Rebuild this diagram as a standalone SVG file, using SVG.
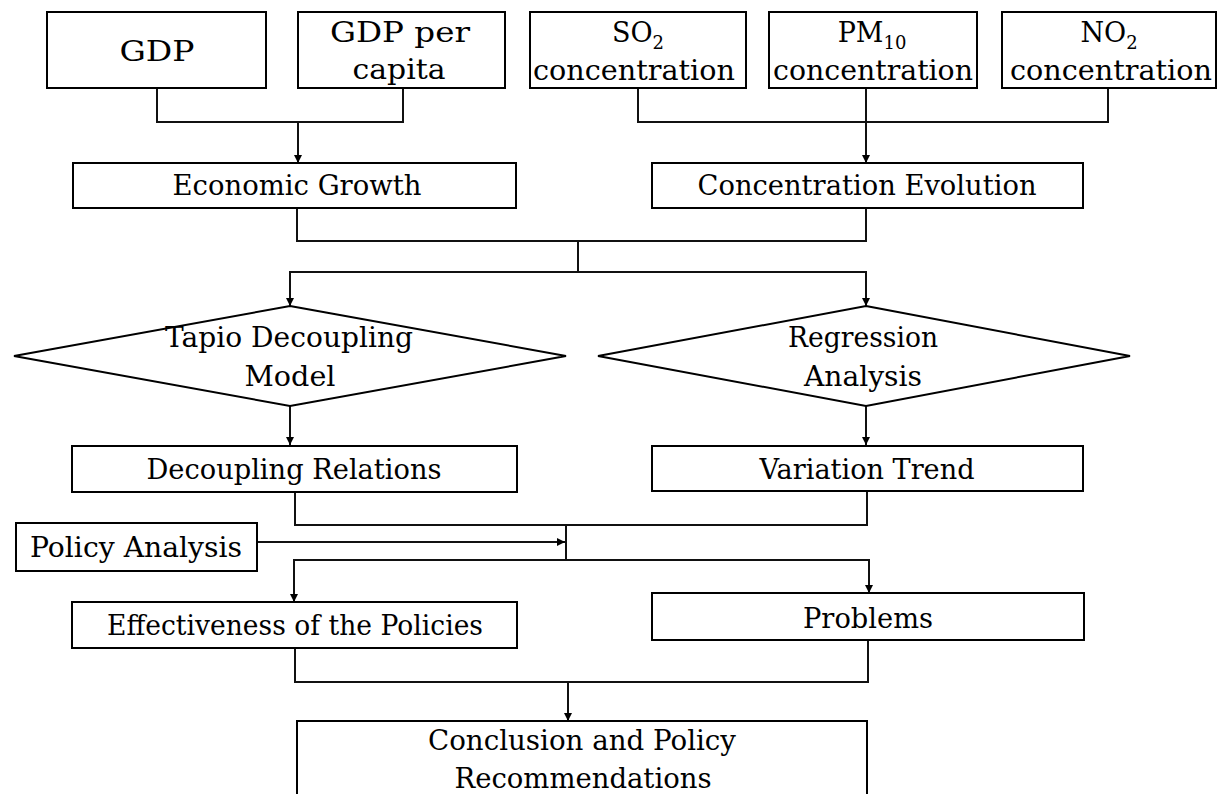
<svg xmlns="http://www.w3.org/2000/svg" width="1218" height="794" viewBox="0 0 1218 794">
<style>
.box{fill:#fff;stroke:#000;stroke-width:2}
.t{font-family:"DejaVu Serif","Liberation Serif",serif;font-size:27px;fill:#000;text-anchor:middle}
.s{font-size:18px}
.c{fill:none;stroke:#111;stroke-width:2}
</style>
<defs>
<marker id="ah" markerWidth="8" markerHeight="10" refX="8" refY="5" orient="auto" markerUnits="userSpaceOnUse">
<path d="M0,1 L8,5 L0,9 Z" fill="#000"/>
</marker>
</defs>
<rect width="1218" height="794" fill="#fff"/>
<g id="connectors">
<polyline class="c" points="157,88 157,122 403,122 403,88"/>
<line class="c" x1="298" y1="122" x2="298" y2="163" marker-end="url(#ah)"/>
<polyline class="c" points="638,88 638,122 1108,122 1108,88"/>
<line class="c" x1="866" y1="88" x2="866" y2="163" marker-end="url(#ah)"/>
<polyline class="c" points="297,208 297,241 866,241 866,208"/>
<line class="c" x1="578" y1="241" x2="578" y2="272"/>
<line class="c" x1="290" y1="272" x2="866" y2="272"/>
<line class="c" x1="290" y1="271" x2="290" y2="306" marker-end="url(#ah)"/>
<line class="c" x1="866" y1="271" x2="866" y2="306" marker-end="url(#ah)"/>
<line class="c" x1="290" y1="406" x2="290" y2="445" marker-end="url(#ah)"/>
<line class="c" x1="866" y1="406" x2="866" y2="445" marker-end="url(#ah)"/>
<polyline class="c" points="295,491 295,525 867,525 867,491"/>
<line class="c" x1="566" y1="525" x2="566" y2="560"/>
<line class="c" x1="257" y1="542" x2="565" y2="542" marker-end="url(#ah)"/>
<line class="c" x1="294" y1="560" x2="869" y2="560"/>
<line class="c" x1="294" y1="559" x2="294" y2="602" marker-end="url(#ah)"/>
<line class="c" x1="869" y1="559" x2="869" y2="593" marker-end="url(#ah)"/>
<polyline class="c" points="295,648 295,682 868,682 868,640"/>
<line class="c" x1="568" y1="682" x2="568" y2="721" marker-end="url(#ah)"/>
</g>
<g id="gdp"><rect class="box" x="47" y="12" width="219" height="76"/><text class="t" x="157" y="61" textLength="75" lengthAdjust="spacingAndGlyphs">GDP</text></g>
<g id="gdp-per-capita"><rect class="box" x="298" y="12" width="207" height="76"/><text class="t" x="400" y="42" textLength="140" lengthAdjust="spacingAndGlyphs">GDP per</text><text class="t" x="399" y="79" textLength="93" lengthAdjust="spacingAndGlyphs">capita</text></g>
<g id="so2"><rect class="box" x="530" y="12" width="216" height="76"/><text class="t" x="638" y="42">SO<tspan class="s" dy="7">2</tspan></text><text class="t" x="634" y="80" textLength="202" lengthAdjust="spacingAndGlyphs">concentration</text></g>
<g id="pm10"><rect class="box" x="769" y="12" width="208" height="76"/><text class="t" x="872" y="42">PM<tspan class="s" dy="7">10</tspan></text><text class="t" x="873" y="80" textLength="200" lengthAdjust="spacingAndGlyphs">concentration</text></g>
<g id="no2"><rect class="box" x="1002" y="12" width="214" height="76"/><text class="t" x="1109" y="42">NO<tspan class="s" dy="7">2</tspan></text><text class="t" x="1111" y="80" textLength="202" lengthAdjust="spacingAndGlyphs">concentration</text></g>
<g id="economic-growth"><rect class="box" x="73" y="163" width="443" height="45"/><text class="t" x="297" y="195" textLength="249" lengthAdjust="spacingAndGlyphs">Economic Growth</text></g>
<g id="concentration-evolution"><rect class="box" x="652" y="163" width="431" height="45"/><text class="t" x="867" y="195" textLength="339" lengthAdjust="spacingAndGlyphs">Concentration Evolution</text></g>
<g id="tapio"><polygon class="box" points="290,306 566,356 290,406 14,356"/><text class="t" x="289" y="347" textLength="248" lengthAdjust="spacingAndGlyphs">Tapio Decoupling</text><text class="t" x="290" y="386" textLength="91" lengthAdjust="spacingAndGlyphs">Model</text></g>
<g id="regression"><polygon class="box" points="866,306 1130,356 866,406 598,356"/><text class="t" x="863" y="347" textLength="150" lengthAdjust="spacingAndGlyphs">Regression</text><text class="t" x="863" y="386" textLength="118" lengthAdjust="spacingAndGlyphs">Analysis</text></g>
<g id="decoupling-relations"><rect class="box" x="72" y="446" width="445" height="46"/><text class="t" x="294" y="479" textLength="295" lengthAdjust="spacingAndGlyphs">Decoupling Relations</text></g>
<g id="variation-trend"><rect class="box" x="652" y="446" width="431" height="45"/><text class="t" x="867" y="479" textLength="215" lengthAdjust="spacingAndGlyphs">Variation Trend</text></g>
<g id="policy-analysis"><rect class="box" x="16" y="523" width="241" height="48"/><text class="t" x="136" y="557" textLength="212" lengthAdjust="spacingAndGlyphs">Policy Analysis</text></g>
<g id="effectiveness"><rect class="box" x="72" y="602" width="445" height="46"/><text class="t" x="295" y="635" textLength="376" lengthAdjust="spacingAndGlyphs">Effectiveness of the Policies</text></g>
<g id="problems"><rect class="box" x="652" y="593" width="432" height="47"/><text class="t" x="868" y="628" textLength="130" lengthAdjust="spacingAndGlyphs">Problems</text></g>
<g id="conclusion"><rect class="box" x="297" y="721" width="570" height="80"/><text class="t" x="582" y="750" textLength="308" lengthAdjust="spacingAndGlyphs">Conclusion and Policy</text><text class="t" x="583" y="788" textLength="257" lengthAdjust="spacingAndGlyphs">Recommendations</text></g>
</svg>
